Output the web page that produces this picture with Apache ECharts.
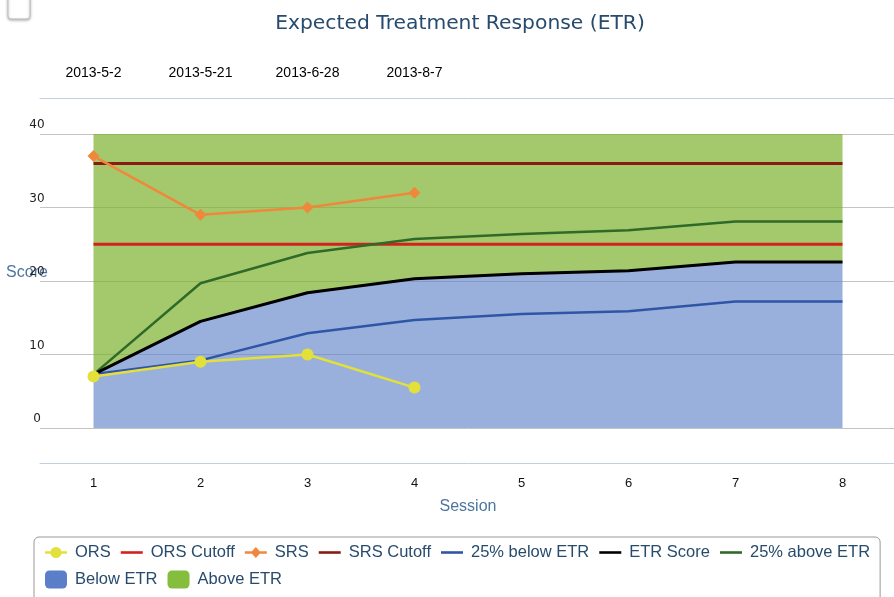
<!DOCTYPE html>
<html>
<head>
<meta charset="utf-8">
<script src="https://cdn.jsdelivr.net/npm/echarts@6/dist/echarts.min.js"></script>
<style>
  html, body { margin: 0; padding: 0; background: #fff; }
  #main { width: 894px; height: 597px; }
</style>
</head>
<body>
<div id="main"></div>
<script>
// data
var sessions = ['1', '2', '3', '4', '5', '6', '7', '8'];
var visitDates = ['2013-5-2', '2013-5-21', '2013-6-28', '2013-8-7', '', '', '', ''];
var yTicks = [0, 10, 20, 30, 40];

var ors = [7, 9, 10, 5.5];
var srs = [37, 29, 30, 32];
var orsCutoff = [25, 25, 25, 25, 25, 25, 25, 25];
var srsCutoff = [36, 36, 36, 36, 36, 36, 36, 36];
var etrScore = [7.3, 14.5, 18.4, 20.3, 21, 21.4, 22.6, 22.6];
var etrBelow = [7.3, 9.2, 12.9, 14.7, 15.5, 15.9, 17.2, 17.2];
var etrAbove = [7.3, 19.7, 23.8, 25.7, 26.4, 26.9, 28.1, 28.1];
var aboveTop = [40, 40, 40, 40, 40, 40, 40, 40];

// green band is stacked on top of the blue one, up to aboveTop
var aboveBand = aboveTop.map(function (t, i) { return t - etrScore[i]; });

var legendFont = 'Liberation Sans';
var lineIcon = 'path://M0,0 H22 V2.6 H0 Z';
var circleIcon = 'path://M0,4.2 H22 V6.8 H0 Z M16.5,5.5 A5.5,5.5 0 1 1 5.5,5.5 A5.5,5.5 0 1 1 16.5,5.5 Z';
var diamondIcon = 'path://M0,4.2 H22 V6.8 H0 Z M11,0 L16,5.5 L11,11 L6,5.5 Z';

var myChart = echarts.init(document.getElementById('main'));

var option = {
  animation: false,
  title: {
    text: 'Expected Treatment Response (ETR)',
    left: 455,
    top: 9,
    textAlign: 'center',
    textStyle: { fontFamily: 'DejaVu Sans', fontSize: 20.3, fontWeight: 'normal', color: '#274b6d' }
  },
  graphic: [{
    type: 'rect',
    shape: { x: 8, y: -8, width: 22, height: 27, r: 3 },
    style: { fill: '#fff', stroke: '#bdbdbd', lineWidth: 1, shadowBlur: 3, shadowOffsetY: 1, shadowColor: 'rgba(0,0,0,0.3)' }
  }],
  legend: {
    left: 34,
    top: 537,
    right: 4,
    padding: [7, 10, 14, 11],
    itemWidth: 22,
    itemHeight: 18,
    itemGap: 10,
    borderColor: '#999',
    borderWidth: 1,
    borderRadius: 5,
    textStyle: { fontFamily: legendFont, fontSize: 16.5, color: '#274b6d', padding: [0, 3, 0, 3] },
    data: [
      { name: 'ORS', icon: circleIcon, itemStyle: { borderWidth: 0 } },
      { name: 'ORS Cutoff', icon: lineIcon, itemStyle: { borderWidth: 0 } },
      { name: 'SRS', icon: diamondIcon, itemStyle: { borderWidth: 0 } },
      { name: 'SRS Cutoff', icon: lineIcon, itemStyle: { borderWidth: 0 } },
      { name: '25% below ETR', icon: lineIcon, itemStyle: { borderWidth: 0 } },
      { name: 'ETR Score', icon: lineIcon, itemStyle: { borderWidth: 0 } },
      { name: '25% above ETR', icon: lineIcon, itemStyle: { borderWidth: 0 } },
      { name: 'Below ETR', icon: 'roundRect', itemStyle: { borderWidth: 0 } },
      { name: 'Above ETR', icon: 'roundRect', itemStyle: { borderWidth: 0 } }
    ]
  },
  grid: { left: 40, right: -2, top: 134, bottom: 169, containLabel: false, outerBoundsMode: 'none' },
  xAxis: [{
    type: 'category',
    data: sessions,
    position: 'bottom',
    offset: 35,
    boundaryGap: true,
    name: 'Session',
    nameLocation: 'middle',
    nameGap: 44,
    nameMoveOverlap: false,
    nameTextStyle: { fontFamily: legendFont, fontSize: 16, color: '#4d759e', verticalAlign: 'middle' },
    axisLine: { onZero: false, lineStyle: { color: '#c0d0e0', width: 1 } },
    axisTick: { alignWithLabel: true, length: 7, lineStyle: { color: '#c0d0e0' } },
    axisLabel: { interval: 0, margin: 14, fontFamily: legendFont, fontSize: 13, color: '#111' },
    splitLine: { show: false }
  }, {
    type: 'category',
    data: visitDates,
    position: 'top',
    offset: 36,
    boundaryGap: true,
    axisLine: { onZero: false, lineStyle: { color: '#c0d0e0', width: 1 } },
    axisTick: {
      alignWithLabel: true,
      length: 6,
      interval: function (i, v) { return v !== ''; },
      lineStyle: { color: '#c0d0e0' }
    },
    axisLabel: { interval: 0, margin: 18, fontFamily: legendFont, fontSize: 14, color: '#000' },
    splitLine: { show: false }
  }],
  yAxis: {
    type: 'value',
    min: yTicks[0],
    max: yTicks[yTicks.length - 1],
    interval: 10,
    name: 'Score',
    nameLocation: 'middle',
    nameRotate: 0,
    nameGap: 13,
    nameMoveOverlap: false,
    nameTextStyle: {
      fontFamily: legendFont, fontSize: 16, color: '#4d759e',
      align: 'center', verticalAlign: 'bottom'
    },
    axisLine: { show: false },
    axisTick: { show: false },
    axisLabel: {
      margin: 3, align: 'center', verticalAlign: 'bottom', padding: [0, 0, 3, 0],
      fontFamily: 'DejaVu Sans', fontSize: 12, color: '#222'
    },
    splitLine: { lineStyle: { color: '#c4c4c4', width: 1 } }
  },
  series: [
    {
      name: 'Below ETR', type: 'line', stack: 'etr', data: etrScore,
      symbol: 'none', color: '#5a7fc8',
      lineStyle: { width: 0 },
      areaStyle: { color: 'rgba(91,127,199,0.62)', opacity: 1 }
    },
    {
      name: 'Above ETR', type: 'line', stack: 'etr', data: aboveBand,
      symbol: 'none', color: '#85bd3d',
      lineStyle: { width: 0 },
      areaStyle: { color: 'rgba(124,178,45,0.7)', opacity: 1 }
    },
    {
      name: 'ORS Cutoff', type: 'line', data: orsCutoff, symbol: 'none',
      color: '#d3211f', lineStyle: { width: 3 }
    },
    {
      name: 'SRS Cutoff', type: 'line', data: srsCutoff, symbol: 'none',
      color: '#8a1b12', lineStyle: { width: 3 }
    },
    {
      name: '25% below ETR', type: 'line', data: etrBelow, symbol: 'none',
      color: '#2f56a6', lineStyle: { width: 2.5 }
    },
    {
      name: '25% above ETR', type: 'line', data: etrAbove, symbol: 'none',
      color: '#2f6a28', lineStyle: { width: 2.5 }
    },
    {
      name: 'ETR Score', type: 'line', data: etrScore, symbol: 'none',
      color: '#000', lineStyle: { width: 3 }
    },
    {
      name: 'SRS', type: 'line', data: srs, symbol: 'diamond', symbolSize: 12,
      color: '#f0883c', lineStyle: { width: 2.5 }, itemStyle: { borderWidth: 0 }
    },
    {
      name: 'ORS', type: 'line', data: ors, symbol: 'circle', symbolSize: 12,
      color: '#e4e03a', lineStyle: { width: 2.5 }, itemStyle: { borderWidth: 0 }
    }
  ]
};
myChart.setOption(option);
</script>
</body>
</html>
